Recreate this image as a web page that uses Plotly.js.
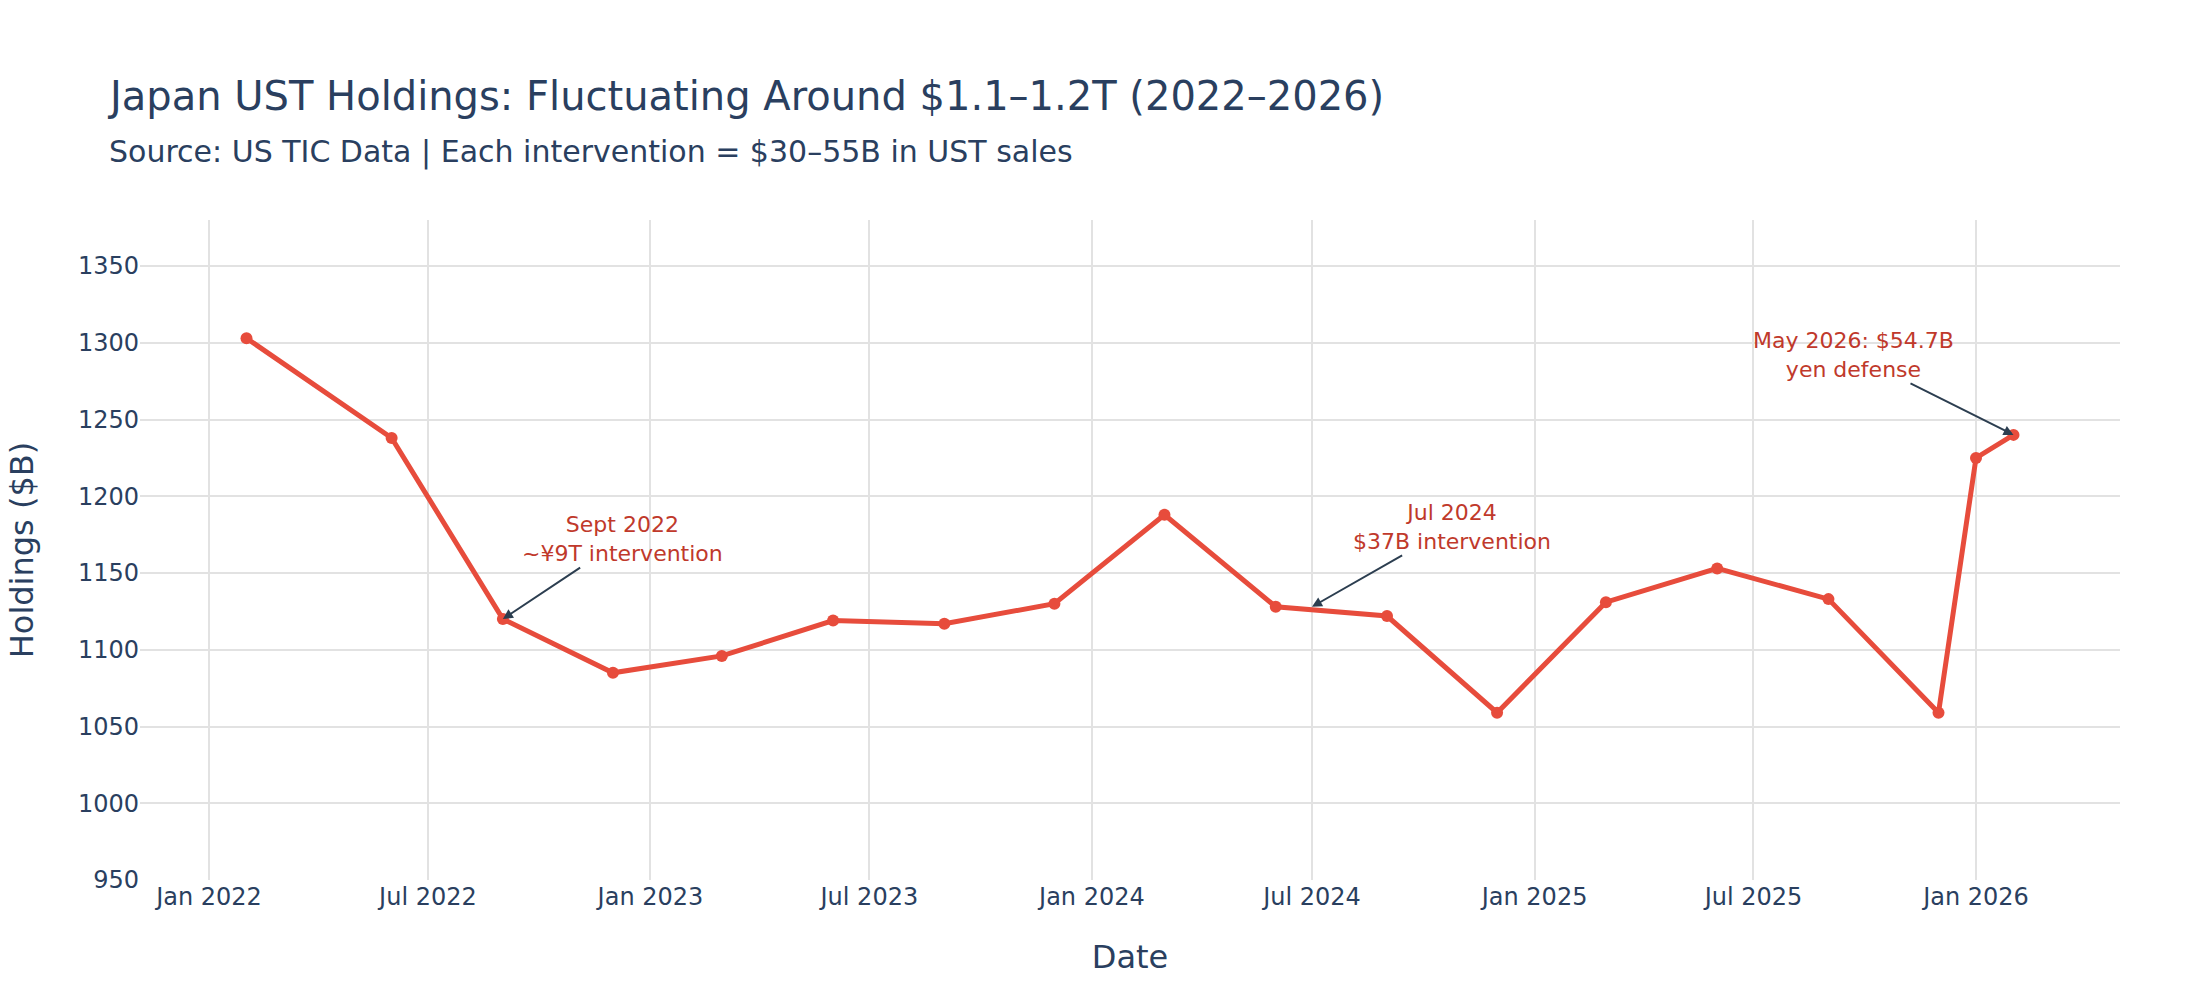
<!DOCTYPE html>
<html>
<head>
<meta charset="utf-8">
<script src="https://cdn.plot.ly/plotly-3.0.1.min.js"></script>
<style>
  body { margin: 0; background: white; }
  #chart { width: 2200px; height: 1000px; }
</style>
</head>
<body>
<div id="chart"></div>
<script>
// quarterly-ish TIC readings, $B
const dates = [
  '2022-02-01', '2022-06-01', '2022-09-01', '2022-12-01',
  '2023-03-01', '2023-06-01', '2023-09-01', '2023-12-01',
  '2024-03-01', '2024-06-01', '2024-09-01', '2024-12-01',
  '2025-03-01', '2025-06-01', '2025-09-01', '2025-12-01',
  '2026-01-01', '2026-02-01',
]
const holdings = [
  1303, 1238, 1120, 1085,
  1096, 1119, 1117, 1130,
  1188, 1128, 1122, 1059,
  1131, 1153, 1133, 1059,
  1225, 1240,
]

// intervention call-outs
const noteDates = ['2022-09-01', '2024-07-01', '2026-02-01']
const noteValues = [1120, 1128, 1240]
const noteTexts = [
  'Sept 2022<br>~¥9T intervention',
  'Jul 2024<br>$37B intervention',
  'May 2026: $54.7B<br>yen defense',
]

const titleText = 'Japan UST Holdings: Fluctuating Around $1.1–1.2T (2022–2026)'
const subtitleText = 'Source: US TIC Data | Each intervention = $30–55B in UST sales'

const font = 'DejaVu Sans, sans-serif'
const textColor = '#2a3f5f'
const lineColor = '#e74c3c'
const noteColor = '#c0392b'
const gridColor = '#e2e2e2'

// arrow offsets (px) for each call-out
const noteOffsets = [[120, -80], [140, -80], [-160, -80]]

let trace = {
  x: dates,
  y: holdings,
  type: 'scatter',
  mode: 'lines+markers',
  line: { color: lineColor, width: 5 },
  marker: { color: lineColor, size: 12 },
  hoverinfo: 'x+y',
}

let annotations = noteDates.map((d, i) => ({
  x: d,
  y: noteValues[i],
  xref: 'x',
  yref: 'y',
  text: noteTexts[i],
  showarrow: true,
  arrowhead: 2,
  arrowsize: 1,
  arrowwidth: 2,
  arrowcolor: '#2c3e50',
  ax: noteOffsets[i][0],
  ay: noteOffsets[i][1],
  font: { family: font, size: 22, color: noteColor },
}))

// subtitle sits just under the main title, left aligned with it
annotations.push({
  xref: 'paper',
  yref: 'paper',
  x: -0.0167,
  y: 1.103,
  xanchor: 'left',
  yanchor: 'middle',
  showarrow: false,
  text: subtitleText,
  font: { family: font, size: 30, color: textColor },
})

let layout = {
  width: 2200,
  height: 1000,
  paper_bgcolor: 'white',
  plot_bgcolor: 'white',
  font: { family: font, size: 24, color: textColor },
  margin: { l: 140, r: 80, t: 220, b: 120 },
  showlegend: false,
  title: {
    text: titleText,
    font: { family: font, size: 40, color: textColor },
    x: 0.05,
    xanchor: 'left',
    xref: 'container',
    yref: 'container',
    y: 0.904,
    yanchor: 'middle',
  },
  xaxis: {
    title: { text: 'Date', standoff: 35, font: { family: font, size: 32, color: textColor } },
    type: 'date',
    dtick: 'M6',
    tick0: '2022-01-01',
    tickformat: '%b %Y',
    showgrid: true,
    gridcolor: gridColor,
    gridwidth: 2,
    zeroline: false,
    showline: false,
  },
  yaxis: {
    title: { text: 'Holdings ($B)', standoff: 34, font: { family: font, size: 32, color: textColor } },
    range: [950, 1380],
    dtick: 50,
    showgrid: true,
    gridcolor: gridColor,
    gridwidth: 2,
    zeroline: false,
    showline: false,
  },
  annotations: annotations,
}

Plotly.newPlot('chart', [trace], layout, { displayModeBar: false, responsive: false })
</script>
</body>
</html>
